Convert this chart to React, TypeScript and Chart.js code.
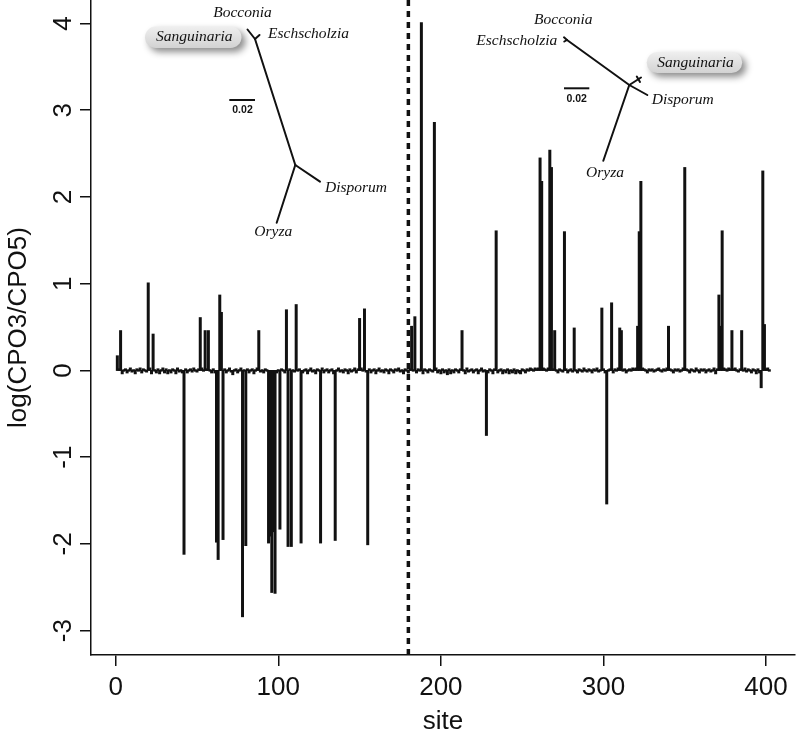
import React, { useEffect, useRef } from "react";
import { Chart, registerables } from "chart.js";

Chart.register(...registerables);

// ---------------- data ----------------
const siteStart = 1;
// log(CPO3/CPO5) per site, sites 1..402
const logRatio: number[] = [
  0.16, 0.01, 0.45, -0.03, 0, 0.01, -0.02, 0, 0.02, -0.01,
  0, -0.03, 0.01, 0, 0.02, -0.02, 0.01, 0, -0.01, 1.0,
  0.02, -0.03, 0.41, 0, -0.02, 0.01, -0.03, 0, 0.02, -0.02,
  0.01, -0.03, 0, -0.02, 0.01, 0, -0.03, 0.02, -0.01, 0,
  -0.02, -2.11, 0.01, -0.02, 0, 0.01, -0.01, 0.02, 0, -0.01,
  0.01, 0.6, 0.02, 0, 0.45, 0.01, 0.45, 0, -0.02, 0.01,
  -0.02, -1.97, -2.17, 0.86, 0.66, -1.94, 0.01, -0.02, 0, 0.02,
  -0.01, -0.04, 0, 0.01, -0.02, 0, 0.02, -2.83, 0, -2.01,
  0.01, -0.02, 0, 0.01, -0.03, 0, 0.02, 0.45, -0.01, 0,
  -0.02, 0.01, 0, -1.98, -1.9, -2.55, -1.85, -2.56, -0.02, 0,
  -1.82, 0.01, 0, -0.02, 0.69, -2.02, 0.01, -2.02, 0, -0.01,
  0.75, 0, 0.01, -1.98, -0.02, 0, 0.01, -0.03, 0, 0.02,
  -0.01, 0, -0.03, 0.01, 0, -1.98, 0.02, -0.02, 0, 0.01,
  -0.02, 0, 0.01, -0.03, -1.95, 0, 0.02, -0.01, 0, -0.02,
  0.01, 0, -0.03, 0.01, -0.01, 0, 0.02, -0.02, 0.01, 0.59,
  0.02, 0, 0.7, -0.01, -2.0, 0.01, -0.02, 0, 0.01, -0.03,
  0, 0.02, -0.01, 0, -0.02, 0.01, 0, -0.03, 0.01, 0,
  -0.02, 0.01, 0, 0.02, -0.01, 0, -0.03, 0.01, 0, -0.02,
  0.01, 0.5, 0, 0.61, -0.02, 0.01, 0, 4.0, -0.03, 0.01,
  0, -0.02, 0.01, 0, -0.01, 2.85, 0.02, -0.02, 0, -0.03,
  0.01, -0.02, 0, -0.04, 0.01, -0.03, 0, -0.02, 0.01, 0,
  -0.02, 0.01, 0.45, 0, -0.03, 0.02, -0.01, 0, 0.01, -0.02,
  0, 0.01, -0.03, 0, 0.02, -0.01, 0, -0.74, -0.02, 0.01,
  0, -0.03, 0.01, 1.6, -0.02, 0, 0.01, -0.03, 0, -0.02,
  0.01, -0.03, 0, -0.02, 0.01, -0.03, 0, -0.02, -0.03, 0.01,
  0, -0.02, 0.01, 0, 0.02, 0.01, 0, 0.02, 0.01, 0.02,
  2.44, 2.17, 0.02, 0.01, 0, 0.02, 2.53, 2.33, 0.01, 0.45,
  0, -0.02, 0.01, 0, -0.01, 1.59, 0.01, -0.02, 0, 0.01,
  -0.01, 0.48, 0, -0.02, 0.01, 0, -0.01, 0.02, 0, -0.01,
  0.01, 0, -0.02, 0.01, 0, 0.02, -0.01, 0, 0.71, 0.01,
  -0.02, -1.53, 0, 0.01, 0.77, -0.02, 0.01, 0, 0.02, 0.48,
  0.45, 0, 0.01, -0.02, 0, 0.01, 0, 0.02, 0.01, 0.02,
  0.5, 1.59, 2.17, 0.02, 0.01, 0, -0.02, 0.01, 0, 0.01,
  -0.01, 0, 0.01, 0.02, 0, -0.01, 0.01, 0, 0.02, 0.5,
  0.01, 0, -0.02, 0.01, 0, 0.01, -0.01, 0, 0.02, 2.33,
  0.01, 0, -0.02, 0.01, 0, -0.01, 0.02, 0, -0.02, 0.01,
  0, 0.01, -0.02, 0, 0.01, -0.01, 0, 0.02, -0.03, 0.01,
  0.86, 0.5, 1.6, 0.02, 0.01, 0, 0.02, 0.01, 0.45, 0.01,
  0.02, 0, -0.01, 0.01, 0.45, 0, 0.02, -0.01, 0.01, 0,
  -0.02, 0.01, 0, -0.03, 0.01, -0.02, -0.19, 2.29, 0.52, 0.01,
  0.02, 0,
];
const breakSite = 180;
const xTicks = [0, 100, 200, 300, 400];
const yTicks = [-3, -2, -1, 0, 1, 2, 3, 4];
const xRange = [-15.2, 417.8];
const yRange = [-3.28, 4.27];
const xTitle = "site";
const yTitle = "log(CPO3/CPO5)";
const taxaLeft = ["Bocconia", "Eschscholzia", "Disporum", "Oryza"];
const taxaRight = ["Bocconia", "Eschscholzia", "Disporum", "Oryza"];
const highlightTaxon = "Sanguinaria";
const scaleBarLabel = "0.02";

// ---------------- style / layout ----------------
const INK = "#111111";
const SANS = '"Liberation Sans", Arial, Helvetica, sans-serif';
const SERIF = '"Liberation Serif", "Times New Roman", serif';
const AXIS_FONT = 26;
const W = 797;
const H = 742;

type Seg = [number, number, number, number];
type Lbl = { x: number; y: number; align: CanvasTextAlign };
type Inset = {
  segs: Seg[];
  bar: [number, number, number];
  barLabel: [number, number];
  labels: Lbl[];
  box: [number, number, number, number];
};

const insetLeft: Inset = {
  segs: [
    [255, 39, 247.5, 29.5],
    [255, 39, 259.5, 35],
    [255, 39, 295.3, 165],
    [295.3, 165, 320, 181.7],
    [295.3, 165, 276.7, 222.7],
  ],
  bar: [229.3, 255, 100],
  barLabel: [242.5, 110.5],
  labels: [
    { x: 242.5, y: 13, align: "center" },
    { x: 268, y: 34, align: "left" },
    { x: 325, y: 188, align: "left" },
    { x: 273.3, y: 231.5, align: "center" },
  ],
  box: [145, 26.5, 96.5, 21.5],
};

const insetRight: Inset = {
  segs: [
    [567, 40, 564, 37.3],
    [567, 40, 564.3, 41.5],
    [567, 40, 629.3, 85],
    [629.3, 85, 641, 77.5],
    [636.8, 76.5, 640, 82],
    [629.3, 85, 647.3, 95],
    [629.3, 85, 603.3, 160.7],
  ],
  bar: [564, 589.3, 88.3],
  barLabel: [576.7, 99],
  labels: [
    { x: 563.3, y: 20, align: "center" },
    { x: 557.3, y: 41, align: "right" },
    { x: 651.7, y: 100, align: "left" },
    { x: 605, y: 173.3, align: "center" },
  ],
  box: [646.7, 52, 95.5, 21],
};

function drawInset(ctx: CanvasRenderingContext2D, inset: Inset, names: string[]) {
  ctx.save();
  const [bx, by, bw, bh] = inset.box;
  const r = bh / 2;
  ctx.save();
  ctx.shadowColor = "rgba(0,0,0,0.45)";
  ctx.shadowBlur = 7;
  ctx.shadowOffsetX = 4;
  ctx.shadowOffsetY = 4;
  const g = ctx.createLinearGradient(0, by, 0, by + bh);
  g.addColorStop(0, "#efefef");
  g.addColorStop(1, "#d2d2d2");
  ctx.fillStyle = g;
  ctx.beginPath();
  ctx.moveTo(bx + r, by);
  ctx.lineTo(bx + bw - r, by);
  ctx.arc(bx + bw - r, by + r, r, -Math.PI / 2, Math.PI / 2);
  ctx.lineTo(bx + r, by + bh);
  ctx.arc(bx + r, by + r, r, Math.PI / 2, (3 * Math.PI) / 2);
  ctx.closePath();
  ctx.fill();
  ctx.restore();

  ctx.fillStyle = INK;
  ctx.font = `italic 15.5px ${SERIF}`;
  ctx.textBaseline = "middle";
  ctx.textAlign = "center";
  ctx.fillText(highlightTaxon, bx + bw / 2 + 1, by + bh / 2);

  inset.labels.forEach((l, i) => {
    ctx.textAlign = l.align;
    ctx.fillText(names[i], l.x, l.y);
  });

  ctx.strokeStyle = INK;
  ctx.lineWidth = 2;
  ctx.lineCap = "round";
  inset.segs.forEach(([x1, y1, x2, y2]) => {
    ctx.beginPath();
    ctx.moveTo(x1, y1);
    ctx.lineTo(x2, y2);
    ctx.stroke();
  });

  const [sx1, sx2, sy] = inset.bar;
  ctx.lineCap = "butt";
  ctx.beginPath();
  ctx.moveTo(sx1, sy);
  ctx.lineTo(sx2, sy);
  ctx.stroke();
  ctx.font = `bold 10.5px ${SANS}`;
  ctx.textAlign = "center";
  ctx.fillText(scaleBarLabel, inset.barLabel[0], inset.barLabel[1]);
  ctx.restore();
}

const decorPlugin = {
  id: "decor",
  afterDraw(chart: any) {
    const ctx: CanvasRenderingContext2D = chart.ctx;
    const ys = chart.scales.y;
    ctx.save();
    ctx.fillStyle = INK;
    ctx.font = `${AXIS_FONT}px ${SANS}`;
    ctx.textAlign = "center";
    ctx.textBaseline = "alphabetic";
    yTicks.forEach((v) => {
      const py = ys.getPixelForValue(v);
      ctx.save();
      ctx.translate(ys.right - 20.5, py);
      ctx.rotate(-Math.PI / 2);
      ctx.fillText(String(v), 0, 0);
      ctx.restore();
    });
    ctx.restore();
    drawInset(ctx, insetLeft, taxaLeft);
    drawInset(ctx, insetRight, taxaRight);
  },
};

export default function App() {
  const ref = useRef<HTMLCanvasElement | null>(null);

  useEffect(() => {
    const canvas = ref.current;
    if (!canvas) return;
    const chart = new Chart(canvas, {
      type: "bar",
      data: {
        datasets: [
          {
            type: "bar",
            data: logRatio.map((v, i) => ({ x: siteStart + i, y: v })),
            backgroundColor: INK,
            borderWidth: 0,
            barThickness: 0.6,
            inflateAmount: 1.2,
            grouped: false,
            order: 1,
          },
          {
            type: "line",
            data: [
              { x: breakSite, y: yRange[0] },
              { x: breakSite, y: yRange[1] },
            ],
            borderColor: INK,
            borderWidth: 3.5,
            borderDash: [6, 5],
            pointRadius: 0,
            order: 2,
          },
        ],
      },
      options: {
        responsive: false,
        animation: false,
        devicePixelRatio: 1,
        events: [],
        layout: { padding: { left: 0, right: 2, top: 0, bottom: 0 } },
        plugins: { legend: { display: false }, tooltip: { enabled: false } },
        scales: {
          x: {
            type: "linear",
            offset: false,
            min: xRange[0],
            max: xRange[1],
            afterBuildTicks: (s: any) => {
              s.ticks = xTicks.map((v) => ({ value: v }));
            },
            afterFit: (s: any) => {
              s.height = 87;
            },
            grid: { offset: false, drawOnChartArea: false, drawTicks: true, tickLength: 11, color: INK, lineWidth: 1.5 },
            border: { display: true, color: INK, width: 1.5 },
            ticks: {
              color: INK,
              font: { family: SANS, size: AXIS_FONT },
              padding: 6,
              maxRotation: 0,
              autoSkip: false,
              callback: (v: any) => String(v),
            },
            title: {
              display: true,
              text: xTitle,
              color: INK,
              font: { family: SANS, size: AXIS_FONT },
              padding: { top: 0, bottom: 5 },
            },
          },
          y: {
            type: "linear",
            min: yRange[0],
            max: yRange[1],
            afterBuildTicks: (s: any) => {
              s.ticks = yTicks.map((v) => ({ value: v }));
            },
            afterFit: (s: any) => {
              s.width = 91;
            },
            grid: { drawOnChartArea: false, drawTicks: true, tickLength: 11, color: INK, lineWidth: 1.5 },
            border: { display: true, color: INK, width: 1.5 },
            ticks: { display: false },
            title: {
              display: true,
              text: yTitle,
              color: INK,
              font: { family: SANS, size: AXIS_FONT },
              padding: { top: 3.5, bottom: 0 },
            },
          },
        },
      },
      plugins: [decorPlugin],
    } as any);
    return () => chart.destroy();
  }, []);

  return (
    <div style={{ position: "fixed", left: 0, top: 0, width: W, height: H, background: "#fff" }}>
      <canvas ref={ref} width={W} height={H} style={{ display: "block", width: W, height: H }} />
    </div>
  );
}
